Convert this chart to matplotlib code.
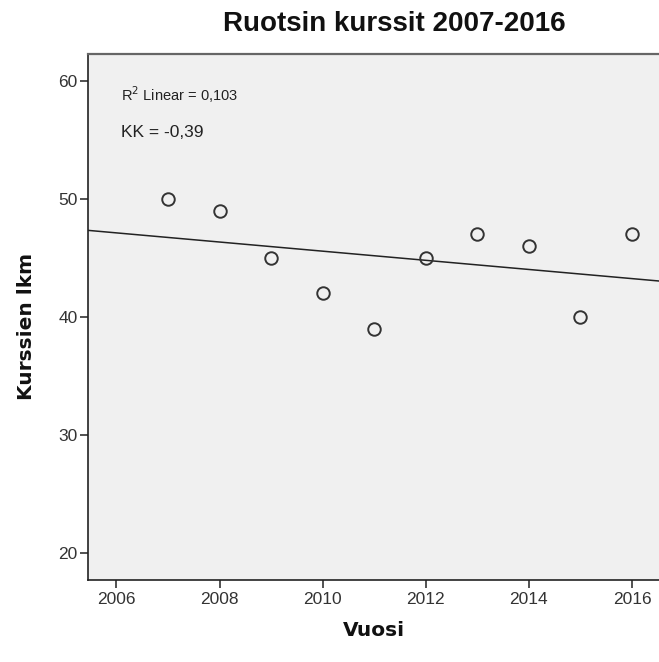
import numpy as np
import matplotlib
matplotlib.use("Agg")
import matplotlib.pyplot as plt

years = [2007, 2008, 2009, 2010, 2011, 2012, 2013, 2014, 2015, 2016]
courses = [50, 49, 45, 42, 39, 45, 47, 46, 40, 47]
x_ticks = [2006, 2008, 2010, 2012, 2014, 2016]
y_ticks = [20, 30, 40, 50, 60]

plt.rcParams['font.family'] = ['Liberation Sans', 'DejaVu Sans']

W, H = 659, 662
fig = plt.figure(figsize=(W / 100, H / 100), dpi=100)
ax = fig.add_axes([88 / W, 1 - 580 / H, 575 / W, 526 / H])
ax.set_facecolor('#f0f0f0')

xlim = (2005.45, 2016.6)
ylim = (17.7, 62.3)
ax.set_xlim(*xlim)
ax.set_ylim(*ylim)

slope, intercept = np.polyfit(years, courses, 1)
xs = np.array(xlim)
ax.plot(xs, slope * xs + intercept, color='#222222', lw=1.1, zorder=2)

ax.plot(years, courses, linestyle='none', marker='o', markersize=9,
        markerfacecolor='none', markeredgecolor='#333333', markeredgewidth=1.4, zorder=3)

ax.set_xticks(x_ticks)
ax.set_yticks(y_ticks)
ax.tick_params(axis='both', direction='out', length=6, width=1.2, color='#333333',
               labelsize=12.5, labelcolor='#333333')
ax.tick_params(axis='y', pad=1.5)
ax.tick_params(axis='x', pad=3)

for side in ['left', 'bottom']:
    ax.spines[side].set_linewidth(1.2)
    ax.spines[side].set_color('#222222')
ax.spines['top'].set_linewidth(1.6)
ax.spines['top'].set_color('#666666')
ax.spines['right'].set_visible(False)

fig.text(374 / W, 1 - 630 / H, 'Vuosi', fontsize=14.5, fontweight='bold',
         family='DejaVu Sans', ha='center', va='center', color='#111111')
fig.text(27 / W, 1 - 326 / H, 'Kurssien lkm', fontsize=14.5, fontweight='bold',
         family='DejaVu Sans', rotation=90, ha='center', va='center', color='#111111')
fig.text(394 / W, 1 - 31 / H, 'Ruotsin kurssit 2007-2016', fontsize=20,
         fontweight='bold', ha='center', va='baseline', color='#111111')

fig.text(121 / W, 1 - 101 / H, 'R$^2$ Linear = 0,103', fontsize=10.5,
         ha='left', va='baseline', color='#222222')
fig.text(121 / W, 1 - 137 / H, 'KK = -0,39', fontsize=12.5,
         ha='left', va='baseline', color='#222222')

fig.savefig('out.png', dpi=100)
